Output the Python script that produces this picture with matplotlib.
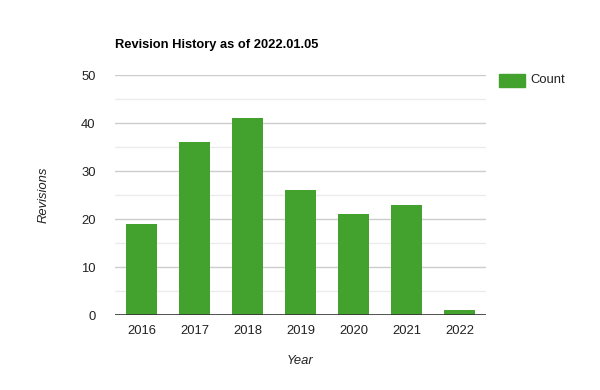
import matplotlib
matplotlib.use("Agg")
import matplotlib.pyplot as plt
from matplotlib.patches import Rectangle

plt.rcParams["font.family"] = ["Liberation Sans", "DejaVu Sans"]

years = ["2016", "2017", "2018", "2019", "2020", "2021", "2022"]
counts = [19, 36, 41, 26, 21, 23, 1]
GREEN = "#43a12e"

fig = plt.figure(figsize=(6, 3.9), dpi=100)
ax = fig.add_axes([115 / 600, 75 / 390, 371 / 600, 240 / 390])

x = range(len(years))
ax.bar(x, counts, width=0.6, color=GREEN, zorder=3)
ax.set_xlim(-0.5, len(years) - 0.5)
ax.set_ylim(0, 50)

# gridlines: major every 10, minor every 5
for v in range(10, 51, 10):
    ax.axhline(v, color="#cccccc", lw=1, zorder=1)
for v in range(5, 50, 10):
    ax.axhline(v, color="#ebebeb", lw=1, zorder=1)
ax.axhline(0, color="#333333", lw=1.2, zorder=4)

ax.set_yticks(range(0, 51, 10))
ax.set_xticks(list(x))
ax.set_xticklabels(years)
ax.tick_params(length=0, labelsize=9.4, colors="#222222", pad=7)
ax.tick_params(axis="y", pad=14)
for s in ax.spines.values():
    s.set_visible(False)

# axis titles at fixed spots
fig.text(300 / 600, 1 - 361 / 390, "Year", style="italic", fontsize=9.4,
         color="#222222", ha="center", va="center")
fig.text(44 / 600, 1 - 195 / 390, "Revisions", style="italic", fontsize=9.4,
         color="#222222", ha="center", va="center", rotation=90)

fig.text(115 / 600, 1 - 45 / 390, "Revision History as of 2022.01.05",
         fontsize=9.3, fontweight="bold", color="#000000", va="center", ha="left")

# legend
fig.patches.append(Rectangle((499 / 600, 1 - 87 / 390), 26 / 600, 13 / 390,
                             transform=fig.transFigure, color=GREEN))
fig.text(530 / 600, 1 - 80 / 390, "Count", fontsize=9.4, color="#222222", va="center")

fig.savefig("out.png", dpi=100)
